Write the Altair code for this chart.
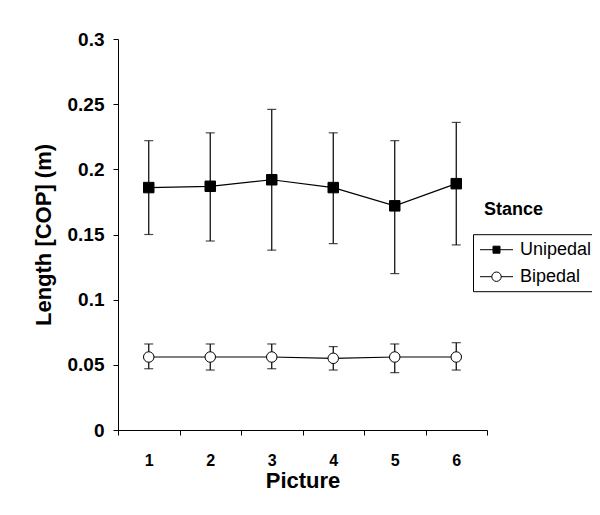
import altair as alt
import pandas as pd

pictures = ["1", "2", "3", "4", "5", "6"]
stances = ["Unipedal", "Bipedal"]

uni_mean = [0.186, 0.187, 0.192, 0.186, 0.172, 0.189]
uni_hi = [0.222, 0.228, 0.246, 0.228, 0.222, 0.236]
uni_lo = [0.150, 0.145, 0.138, 0.143, 0.120, 0.142]

bi_mean = [0.056, 0.056, 0.056, 0.055, 0.056, 0.056]
bi_hi = [0.066, 0.066, 0.066, 0.064, 0.066, 0.067]
bi_lo = [0.047, 0.046, 0.047, 0.046, 0.044, 0.046]

y_ticks = [0, 0.05, 0.1, 0.15, 0.2, 0.25, 0.3]

rows = []
for s, m, lo, hi in [("Unipedal", uni_mean, uni_lo, uni_hi), ("Bipedal", bi_mean, bi_lo, bi_hi)]:
    for p, a, b, c in zip(pictures, m, lo, hi):
        rows.append({"Picture": p, "Stance": s, "mean": a, "lo": b, "hi": c, "Head": "Stance"})
df = pd.DataFrame(rows)

FONT = "Liberation Sans"

x = alt.X(
    "Picture:N",
    sort=pictures,
    scale=alt.Scale(type="band", paddingInner=0, paddingOuter=0),
    axis=alt.Axis(
        title="Picture", labelAngle=0, tickBand="extent", tickSize=5,
        labelFontSize=16, labelFontWeight="bold", labelPadding=17,
        titleFontSize=22, titleFontWeight="bold", titlePadding=2,
        domainColor="black", tickColor="black", labelColor="black", titleColor="black",
        grid=False,
    ),
)
yscale = alt.Scale(domain=[0, 0.3], nice=False, zero=True)
yaxis = alt.Axis(
    title="Length [COP] (m)", values=y_ticks, format="~g", tickSize=5,
    labelFontSize=19, labelFontWeight="bold", labelPadding=9,
    titleFontSize=22, titleFontWeight="bold", titlePadding=12,
    domainColor="black", tickColor="black", labelColor="black", titleColor="black",
    grid=False,
)

base = alt.Chart(df)

rules = base.mark_rule(color="black", strokeWidth=1.2).encode(
    x=x, y=alt.Y("lo:Q", scale=yscale, axis=yaxis), y2="hi:Q", detail="Stance:N"
)
cap_lo = base.mark_tick(color="black", size=9, thickness=1.2).encode(x=x, y="lo:Q")
cap_hi = base.mark_tick(color="black", size=9, thickness=1.2).encode(x=x, y="hi:Q")

line = base.mark_line(color="black", strokeWidth=1.2).encode(
    x=x, y="mean:Q", detail="Stance:N"
)

points = base.mark_point(stroke="black", strokeWidth=1, size=110, opacity=1).encode(
    x=x, y="mean:Q",
    shape=alt.Shape("Stance:N", scale=alt.Scale(domain=stances, range=["square", "circle"]), legend=None),
    fill=alt.Fill("Stance:N", scale=alt.Scale(domain=stances, range=["black", "white"]), legend=None),
)

uni_path = "M-1.65,0H1.65M-0.35,-0.35H0.35V0.35H-0.35Z"
bi_path = ("M-1.65,0H-0.47M0.47,0H1.65M-0.47,0A0.47,0.47,0,1,0,0.47,0"
           "A0.47,0.47,0,1,0,-0.47,0Z")

stance_legend = alt.Legend(
    title=None, orient="none", legendX=355, legendY=195.2,
    strokeColor="black", padding=5, symbolSize=400, symbolStrokeWidth=1,
    symbolStrokeColor="black", symbolOpacity=1, symbolOffset=8,
    labelOffset=13, labelFontSize=18, labelFont=FONT, labelColor="black",
    rowPadding=7,
)

legend_layer = base.mark_point(strokeWidth=1, opacity=0).encode(
    x=x, y="mean:Q",
    shape=alt.Shape("Stance:N", scale=alt.Scale(domain=stances, range=[uni_path, bi_path]),
                    legend=stance_legend),
    fill=alt.Fill("Stance:N", scale=alt.Scale(domain=stances, range=["black", "white"]),
                  legend=stance_legend),
    stroke=alt.Stroke("Stance:N", scale=alt.Scale(domain=stances, range=["black", "black"]),
                      legend=stance_legend),
)

head_layer = base.mark_point(opacity=0).encode(
    x=x, y="mean:Q",
    strokeDash=alt.StrokeDash(
        "Head:N",
        legend=alt.Legend(
            title=None, orient="none", legendX=348, legendY=162, padding=0,
            symbolSize=0, symbolOpacity=0, labelOffset=0,
            labelFontSize=18, labelFontWeight="bold", labelFont=FONT, labelColor="black",
        ),
    ),
)

chart = (
    alt.layer(rules, cap_lo, cap_hi, line, points, legend_layer, head_layer)
    .resolve_scale(shape="independent", fill="independent", stroke="independent")
    .properties(
        width=369, height=391,
        autosize=alt.AutoSizeParams(type="none"),
        padding={"left": 110, "top": 31, "right": 105, "bottom": 77},
        background="white",
    )
    .configure_view(stroke=None)
    .configure_axis(labelFont=FONT, titleFont=FONT)
    .configure_legend(labelFont=FONT, titleFont=FONT)
)

chart.save("out.html", embed_options={"renderer": "svg", "actions": False})
